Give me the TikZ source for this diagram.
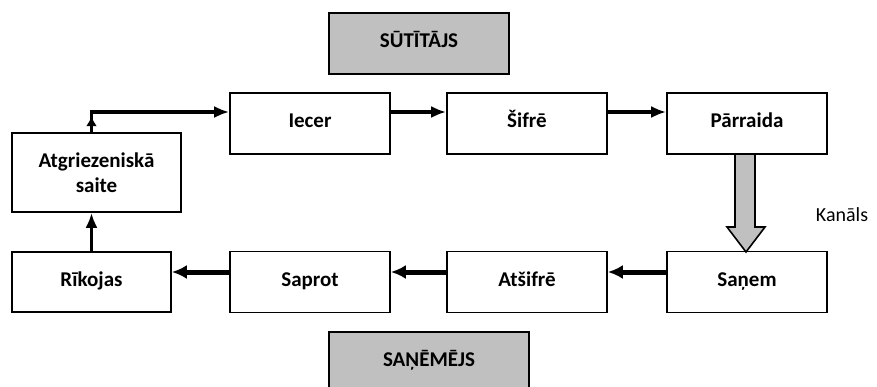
\documentclass[tikz,border=0pt]{standalone}
\usepackage{fontspec}
\setmainfont{Carlito}
\usepackage{tikz}
\usetikzlibrary{arrows.meta,positioning}
\definecolor{boxgray}{RGB}{192,192,192}
\tikzset{
  stepbox/.style={draw,line width=1.6pt,minimum width=160pt,minimum height=61pt,
    align=center,text height=2.3ex,text depth=.5ex,font=\fontsize{21}{25}\selectfont\bfseries},
  rolebox/.style={stepbox,fill=boxgray},
  toparr/.style={-{Latex[length=15pt,width=12pt]},line width=3.6pt},
  botarr/.style={-{Latex[length=15pt,width=14pt]},line width=5pt}
}
\begin{document}
\begin{tikzpicture}[x=1pt,y=-1pt]
\path[use as bounding box,fill=white] (0,0) rectangle (877,386);
\clip (0,0) rectangle (877,386);
%channel arrow
\draw [line width=1.6pt,fill=boxgray] (735,154) -- (735,227) -- (727,227) -- (746,252)
  -- (765,227) -- (755,227) -- (755,154);
\draw (842,215) node[font=\fontsize{20}{24}\selectfont] {Kanāls};
%draw the two roles
\node[rolebox,minimum width=180pt] (sutitajs) at (419,43.5) {SŪTĪTĀJS};
\node[rolebox,minimum width=200pt] (sanemejs) at (429,362.5) {SAŅĒMĒJS};
%draw top row
\node[stepbox] (iecer) at (310,123.5) {Iecer};
\node[stepbox] (sifre) at (527,123.5) {Šifrē};
\node[stepbox] (parraida) at (747,123.5) {Pārraida};
%draw bottom row
\node[stepbox,minimum width=159pt,minimum height=60pt] (rikojas) at (91.5,282) {Rīkojas};
\node[stepbox] (saprot) at (310,282) {Saprot};
\node[stepbox] (atsifre) at (527,282) {Atšifrē};
\node[stepbox] (sanem) at (747,282) {Saņem};
\node[stepbox,minimum width=169pt,minimum height=79pt,text height=,text depth=] (atgr) at (96.5,172.5) {Atgriezeniskā\\saite};
%draw arrows
\draw [toparr] ([yshift=11.5pt]iecer.east) -- ([yshift=11.5pt]sifre.west);
\draw [toparr] ([yshift=11.5pt]sifre.east) -- ([yshift=11.5pt]parraida.west);
\draw [botarr] ([yshift=10pt]sanem.west) -- ([yshift=10pt]atsifre.east);
\draw [botarr] ([yshift=10pt]atsifre.west) -- ([yshift=10pt]saprot.east);
\draw [botarr] ([yshift=10pt]saprot.west) -- ([yshift=10pt]rikojas.east);
\draw [toparr] (rikojas.north) -- (rikojas.north |- atgr.south);
\draw [toparr,-{Latex[length=10pt,width=11pt]}] (rikojas.north |- atgr.north) -- ++(0,-16);
\draw [line width=3.6pt,-{Latex[length=15pt,width=12pt]}] (rikojas.north |- atgr.north) |- ([yshift=11.5pt]iecer.west);
\end{tikzpicture}
\end{document}
